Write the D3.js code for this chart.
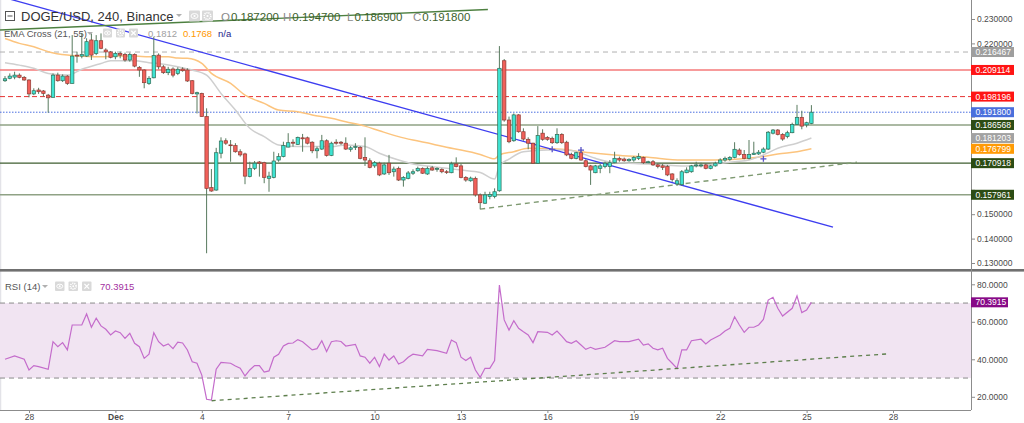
<!DOCTYPE html>
<html><head><meta charset="utf-8">
<script src="https://cdn.jsdelivr.net/npm/d3@7"></script>
<style>body{margin:0;background:#fff;overflow:hidden}svg{display:block;font-family:"Liberation Sans",Arial,sans-serif}</style>
</head><body><svg id="c" width="1024" height="423"></svg>
<script>
// ---------------- DATA (DOGE/USD 4h candles, Nov 27 04:00 -> Dec 25 04:00, 2021) ----------------
const opens=[0.2047,0.2057,0.2062,0.2070,0.2061,0.2050,0.1993,0.2009,0.2005,0.1988,
0.1979,0.2070,0.2047,0.2066,0.2036,0.2152,0.2148,0.2148,0.2214,0.2159,
0.2211,0.2173,0.2165,0.2145,0.2159,0.2155,0.2132,0.2155,0.2102,0.2091,
0.2036,0.2059,0.2152,0.2104,0.2080,0.2095,0.2077,0.2095,0.2091,0.2047,
0.1993,0.1995,0.1900,0.1609,0.1599,0.1750,0.1801,0.1784,0.1781,0.1756,
0.1747,0.1654,0.1688,0.1714,0.1711,0.1647,0.1651,0.1722,0.1736,0.1775,
0.1795,0.1786,0.1813,0.1813,0.1795,0.1760,0.1767,0.1801,0.1741,0.1795,
0.1795,0.1791,0.1766,0.1774,0.1774,0.1733,0.1719,0.1698,0.1709,0.1665,
0.1709,0.1674,0.1688,0.1640,0.1647,0.1668,0.1678,0.1688,0.1665,0.1690,
0.1684,0.1684,0.1674,0.1670,0.1706,0.1698,0.1651,0.1637,0.1647,0.1579,
0.1545,0.1572,0.1572,0.1596,0.2129,0.1886,0.1801,0.1907,0.1838,0.1807,
0.1791,0.1709,0.1832,0.1815,0.1811,0.1793,0.1827,0.1795,0.1745,0.1729,
0.1752,0.1719,0.1698,0.1670,0.1688,0.1695,0.1695,0.1711,0.1729,0.1726,
0.1719,0.1722,0.1729,0.1732,0.1711,0.1715,0.1702,0.1698,0.1695,0.1665,
0.1624,0.1621,0.1670,0.1674,0.1698,0.1698,0.1702,0.1688,0.1698,0.1709,
0.1722,0.1725,0.1733,0.1763,0.1745,0.1729,0.1745,0.1747,0.1754,0.1767,
0.1832,0.1845,0.1827,0.1818,0.1834,0.1868,0.1897,0.1866,0.1872];
const highs=[0.2066,0.2077,0.2084,0.2077,0.2066,0.2053,0.2016,0.2018,0.2009,0.1993,
0.2077,0.2080,0.2073,0.2070,0.2234,0.2166,0.2243,0.2221,0.2241,0.2234,
0.2241,0.2180,0.2169,0.2166,0.2166,0.2162,0.2162,0.2159,0.2107,0.2094,
0.2066,0.2227,0.2159,0.2111,0.2104,0.2102,0.2102,0.2102,0.2098,0.2050,
0.2002,0.1998,0.1934,0.1685,0.1772,0.1815,0.1811,0.1804,0.1791,0.1766,
0.1752,0.1715,0.1718,0.1718,0.1715,0.1674,0.1756,0.1750,0.1797,0.1832,
0.1807,0.1818,0.1829,0.1818,0.1799,0.1777,0.1825,0.1807,0.1797,0.1807,
0.1800,0.1815,0.1779,0.1791,0.1779,0.1815,0.1729,0.1718,0.1715,0.1711,
0.1743,0.1695,0.1695,0.1656,0.1677,0.1684,0.1695,0.1692,0.1695,0.1698,
0.1692,0.1688,0.1681,0.1715,0.1733,0.1706,0.1656,0.1654,0.1654,0.1585,
0.1592,0.1592,0.1606,0.2189,0.2136,0.1900,0.1913,0.1910,0.1852,0.1815,
0.1793,0.1861,0.1848,0.1820,0.1818,0.1852,0.1832,0.1801,0.1752,0.1756,
0.1766,0.1725,0.1702,0.1702,0.1706,0.1715,0.1722,0.1756,0.1736,0.1732,
0.1729,0.1738,0.1750,0.1736,0.1719,0.1722,0.1709,0.1706,0.1702,0.1668,
0.1647,0.1681,0.1692,0.1702,0.1715,0.1711,0.1709,0.1702,0.1715,0.1729,
0.1736,0.1738,0.1795,0.1770,0.1763,0.1804,0.1797,0.1763,0.1774,0.1841,
0.1849,0.1849,0.1832,0.1842,0.1875,0.1948,0.1924,0.1879,0.1947];
const lows=[0.2042,0.2053,0.2053,0.2057,0.2047,0.1979,0.1988,0.1993,0.1982,0.1916,
0.1979,0.2043,0.2042,0.2030,0.2036,0.2121,0.2139,0.2145,0.2132,0.2152,
0.2176,0.2135,0.2139,0.2135,0.2139,0.2125,0.2125,0.2102,0.2063,0.2016,
0.2030,0.2057,0.2094,0.2075,0.2070,0.2061,0.2070,0.2084,0.2042,0.1991,
0.1913,0.1900,0.1340,0.1592,0.1596,0.1729,0.1784,0.1715,0.1752,0.1736,
0.1623,0.1651,0.1681,0.1654,0.1627,0.1592,0.1647,0.1715,0.1733,0.1774,
0.1777,0.1784,0.1756,0.1786,0.1750,0.1729,0.1763,0.1736,0.1738,0.1785,
0.1784,0.1763,0.1756,0.1763,0.1725,0.1698,0.1688,0.1690,0.1656,0.1661,
0.1661,0.1654,0.1636,0.1613,0.1643,0.1661,0.1674,0.1665,0.1661,0.1678,
0.1674,0.1668,0.1665,0.1668,0.1692,0.1647,0.1633,0.1633,0.1572,0.1520,
0.1542,0.1561,0.1565,0.1592,0.1879,0.1791,0.1797,0.1834,0.1801,0.1766,
0.1706,0.1706,0.1801,0.1801,0.1788,0.1788,0.1788,0.1738,0.1725,0.1725,
0.1719,0.1692,0.1620,0.1668,0.1668,0.1688,0.1668,0.1709,0.1715,0.1715,
0.1715,0.1715,0.1722,0.1706,0.1709,0.1698,0.1688,0.1681,0.1656,0.1633,
0.1616,0.1616,0.1668,0.1670,0.1692,0.1692,0.1684,0.1684,0.1695,0.1706,
0.1715,0.1719,0.1729,0.1740,0.1725,0.1725,0.1743,0.1743,0.1750,0.1763,
0.1827,0.1823,0.1801,0.1811,0.1832,0.1866,0.1848,0.1856,0.1869];
const closes=[0.2055,0.2066,0.2070,0.2061,0.2050,0.1993,0.2006,0.2002,0.1995,0.1977,
0.2070,0.2047,0.2066,0.2036,0.2148,0.2148,0.2154,0.2207,0.2152,0.2211,
0.2180,0.2165,0.2143,0.2159,0.2152,0.2132,0.2155,0.2107,0.2091,0.2039,
0.2057,0.2150,0.2104,0.2080,0.2094,0.2070,0.2094,0.2088,0.2046,0.1995,
0.1998,0.1900,0.1606,0.1595,0.1752,0.1800,0.1791,0.1781,0.1756,0.1743,
0.1656,0.1688,0.1709,0.1709,0.1651,0.1656,0.1718,0.1736,0.1781,0.1793,
0.1791,0.1815,0.1809,0.1791,0.1760,0.1768,0.1801,0.1741,0.1791,0.1791,
0.1791,0.1767,0.1772,0.1777,0.1729,0.1722,0.1692,0.1711,0.1661,0.1702,
0.1670,0.1685,0.1640,0.1651,0.1669,0.1674,0.1688,0.1668,0.1688,0.1681,
0.1688,0.1674,0.1672,0.1706,0.1695,0.1651,0.1640,0.1648,0.1579,0.1547,
0.1579,0.1581,0.1592,0.2098,0.1886,0.1797,0.1907,0.1838,0.1808,0.1791,
0.1709,0.1822,0.1807,0.1807,0.1793,0.1827,0.1793,0.1743,0.1729,0.1752,
0.1722,0.1695,0.1681,0.1698,0.1698,0.1709,0.1711,0.1729,0.1722,0.1719,
0.1725,0.1732,0.1736,0.1711,0.1715,0.1702,0.1695,0.1692,0.1661,0.1643,
0.1637,0.1674,0.1681,0.1698,0.1702,0.1702,0.1688,0.1698,0.1709,0.1722,
0.1729,0.1733,0.1766,0.1745,0.1729,0.1745,0.1750,0.1754,0.1767,0.1836,
0.1845,0.1827,0.1808,0.1834,0.1868,0.1897,0.1861,0.1875,0.1918];

// EMA Cross (21, 55) read at candle indices
const ema21Idx=[0,3,6,9,13,16,20,22,27,30,32,36,39,42,45,48,51,54,57,61,64,68,71,75,78,82,85,89,92,95,99,102,103,105,108,113,117,120,123,127,130,134,137,141,144,148,152,155,158,161,165,168];
const ema21Val=[0.2121,0.2111,0.2098,0.2077,0.2070,0.2094,0.2118,0.2129,0.2129,0.2121,0.2118,0.2104,0.2091,0.2070,0.1995,0.1927,0.1852,0.1818,0.1784,0.1777,0.1777,0.1777,0.1784,0.1777,0.1750,0.1722,0.1706,0.1695,0.1688,0.1681,0.1671,0.1644,0.1698,0.1726,0.1756,0.1763,0.1763,0.1750,0.1729,0.1711,0.1709,0.1706,0.1702,0.1698,0.1698,0.1706,0.1715,0.1722,0.1743,0.1770,0.1791,0.1812];
const ema55Idx=[0,3,6,9,13,16,20,23,27,30,34,36,38,41,43,47,50,54,57,61,64,68,71,75,78,82,85,89,92,95,99,102,103,106,109,116,120,123,127,134,141,148,155,158,161,165,168];
const ema55Val=[0.2220,0.2200,0.2186,0.2166,0.2152,0.2148,0.2145,0.2148,0.2148,0.2145,0.2145,0.2140,0.2139,0.2118,0.2077,0.2036,0.1988,0.1954,0.1927,0.1920,0.1907,0.1893,0.1879,0.1861,0.1842,0.1818,0.1804,0.1788,0.1774,0.1763,0.1745,0.1727,0.1743,0.1756,0.1770,0.1766,0.1756,0.1750,0.1743,0.1733,0.1722,0.1722,0.1729,0.1736,0.1747,0.1756,0.1768];
const crossIdx=[114,120,158];
const crossVal=[0.1766,0.1763,0.1727];

// RSI (14) read at candle indices
const rsiIdx=[0,2,4,5,6,7,9,10,11,12,13,14,16,17,18,19,20,21,22,23,24,25,26,27,28,29,30,31,32,33,34,35,36,37,38,39,40,41,42,43,44,45,47,48,49,50,51,52,53,54,55,56,57,58,59,60,61,62,64,65,66,67,68,69,70,71,73,74,75,76,77,78,79,80,81,82,83,84,85,87,88,90,92,93,94,95,96,97,98,99,100,101,102,103,104,105,106,107,108,109,110,111,113,114,115,116,117,118,119,120,121,122,123,125,126,127,128,130,132,133,134,135,136,137,138,139,140,141,142,143,145,146,147,149,150,151,152,153,154,155,156,157,158,159,160,161,162,164,165,166,167,168];
const rsiVal=[40.0,41.8,40.0,34.3,36.6,36.1,34.7,49.4,46.7,48.9,45.0,58.3,58.3,64.2,57.1,61.9,57.8,56.0,53.0,55.1,54.2,51.2,53.9,48.5,46.7,40.5,42.7,54.2,49.4,47.1,48.2,45.7,49.1,48.7,45.0,38.7,37.9,31.6,18.7,18.3,34.7,38.4,37.9,36.4,35.2,31.1,34.3,36.6,36.6,33.2,33.8,41.1,42.7,47.1,48.5,48.7,50.5,49.4,45.0,45.7,49.9,44.1,49.4,49.9,49.5,47.1,48.0,41.8,41.1,37.9,41.1,36.1,42.8,39.6,41.8,37.5,38.7,41.1,42.7,41.8,45.3,44.6,43.2,50.3,48.9,41.1,39.3,41.1,34.3,30.4,35.2,35.2,39.3,79.6,61.0,55.6,60.6,56.5,54.7,53.0,48.9,54.7,54.4,53.0,55.1,52.4,49.4,48.5,49.9,47.6,45.3,46.4,45.3,46.4,48.2,49.9,49.4,49.4,50.7,47.6,48.2,45.9,45.0,45.9,40.5,37.9,35.2,45.0,45.0,49.9,50.7,48.2,50.3,53.0,55.1,56.5,62.7,58.3,54.4,57.1,57.1,58.3,61.3,71.6,73.1,67.2,63.1,67.2,73.8,64.9,66.3,70.3915];

// Horizontal levels and drawn trend lines ([candle index, value])
const levels=[0.216467,0.209114,0.198196,0.191800,0.186568,0.170918,0.157961];
const emaLastVals=[0.181203,0.176799];
const blueTrend=[[0,0.2387],[172.5,0.1447]];
const greenTopTrend=[[-1.04,0.2255],[100.6,0.2339]];
const supportTrend=[[99,0.1521],[177.5,0.1713]];
const rsiTrend=[[43.06,17.9],[183.9,42.9]];
const rsiLast=70.3915;

// Axis ticks
const priceTicks=[0.13,0.14,0.15,0.16,0.17,0.18,0.19,0.20,0.21,0.22,0.23];
const rsiTicks=[20,40,60,80];
const rsiBand=[30,70];
const timeTickDays=[[2021,10,28],[2021,11,1],[2021,11,4],[2021,11,7],[2021,11,10],[2021,11,13],[2021,11,16],[2021,11,19],[2021,11,22],[2021,11,25],[2021,11,28]];
const timeTickLabels=["28","Dec","4","7","10","13","16","19","22","25","28"];
const ohlc=[["O","0.187200"],["H","0.194700"],["L","0.186900"],["C","0.191800"]];

// ---------------- LAYOUT ----------------
const svg=d3.select("#c");
const PR=971, MAIN_B=269, RSI_T=272, RSI_B=410;
const x=d3.scaleUtc().domain([new Date(Date.UTC(2021,10,28)),new Date(Date.UTC(2021,11,28))]).range([29,893]);
const t0=Date.UTC(2021,10,27,4);
const tOf=i=>new Date(t0+i*4*3600e3);
const xi=i=>x(tOf(i));
const y=d3.scaleLinear().domain([0.13,0.23]).range([263,19]);
const r=d3.scaleLinear().domain([20,80]).range([396.8,284.3]);

const defs=svg.append("defs");
defs.append("clipPath").attr("id","cm").append("rect").attr("x",0).attr("y",0).attr("width",PR).attr("height",MAIN_B);
defs.append("clipPath").attr("id","cr").append("rect").attr("x",0).attr("y",RSI_T).attr("width",PR).attr("height",RSI_B-RSI_T);

svg.append("rect").attr("width",1024).attr("height",423).attr("fill","#fff");
svg.append("line").attr("x1",0.5).attr("x2",0.5).attr("y1",0).attr("y2",RSI_B).attr("stroke","#e3e3e8").attr("stroke-width",1.5);

// ---------- main pane ----------
const gm=svg.append("g").attr("clip-path","url(#cm)");
const lvlStyle=[
 {c:"#b0b0b0",w:1,d:"5,4",box:"#9e9e9e"},
 {c:"#f47a7a",w:1.4,d:null,box:"#ff1414"},
 {c:"#e63232",w:1,d:"5,3",box:"#ff1414"},
 {c:"#4a6ee0",w:1,d:"1.5,1.5",box:"#4a6fdc"},
 {c:"#8fa285",w:1.6,d:null,box:"#2c4c14"},
 {c:"#3f5e30",w:1.2,d:null,box:"#2c4c14"},
 {c:"#8fa285",w:1.6,d:null,box:"#2c4c14"}];
levels.forEach((v,k)=>{
  const s=lvlStyle[k];
  gm.append("line").attr("x1",0).attr("x2",PR).attr("y1",y(v)).attr("y2",y(v))
    .attr("stroke",s.c).attr("stroke-width",s.w).attr("stroke-dasharray",s.d);
});

const lineGen=(xs,vs,sc)=>d3.line().x(d=>xi(d[0])).y(d=>sc(d[1])).curve(d3.curveMonotoneX)(xs.map((v,k)=>[v,vs[k]]));
gm.append("path").attr("d",lineGen(ema55Idx,ema55Val,y)).attr("fill","none").attr("stroke","#fcc47e").attr("stroke-width",1.5);
gm.append("path").attr("d",lineGen(ema21Idx,ema21Val,y)).attr("fill","none").attr("stroke","#cfcfcf").attr("stroke-width",1.5);

const segLine=(g,pts,sc,col,w,dash)=>g.append("line")
  .attr("x1",xi(pts[0][0])).attr("y1",sc(pts[0][1])).attr("x2",xi(pts[1][0])).attr("y2",sc(pts[1][1]))
  .attr("stroke",col).attr("stroke-width",w).attr("stroke-dasharray",dash);
segLine(gm,blueTrend,y,"#3d3df0",1.3,null);
segLine(gm,supportTrend,y,"#7f9a72",1.4,"5,4");

// candles
const idx=d3.range(opens.length);
const cg=gm.append("g");
cg.selectAll("line.w").data(idx).join("line").attr("class","w")
  .attr("x1",i=>xi(i)).attr("x2",i=>xi(i)).attr("y1",i=>y(highs[i])).attr("y2",i=>y(lows[i]))
  .attr("stroke","#587a5e").attr("stroke-width",1);
cg.selectAll("rect").data(idx).join("rect")
  .attr("x",i=>xi(i)-1.7).attr("width",3.4)
  .attr("y",i=>y(Math.max(opens[i],closes[i])))
  .attr("height",i=>Math.max(0.8,y(Math.min(opens[i],closes[i]))-y(Math.max(opens[i],closes[i]))))
  .attr("fill",i=>closes[i]>=opens[i]?"#3ee3d2":"#f1605a")
  .attr("stroke",i=>closes[i]>=opens[i]?"#2f6c55":"#8f3a33").attr("stroke-width",0.7);

// cross markers
crossIdx.forEach((c,k)=>{
  const cx=xi(c), cy=y(crossVal[k]);
  gm.append("path").attr("d",`M${cx-3},${cy}H${cx+3}M${cx},${cy-3}V${cy+3}`).attr("stroke","#5b55c8").attr("stroke-width",1.3);
});
segLine(gm,greenTopTrend,y,"#4d8040",1.3,null);

// ---------- RSI pane ----------
const gr=svg.append("g").attr("clip-path","url(#cr)");
gr.append("rect").attr("x",0).attr("width",PR).attr("y",r(rsiBand[1])).attr("height",r(rsiBand[0])-r(rsiBand[1])).attr("fill","#f1e4f2");
rsiBand.forEach(v=>gr.append("line").attr("x1",0).attr("x2",PR).attr("y1",r(v)).attr("y2",r(v)).attr("stroke","#8a8a8a").attr("stroke-width",1).attr("stroke-dasharray","5,4"));
gr.append("path").attr("d",d3.line().x(d=>xi(d[0])).y(d=>r(d[1]))(rsiIdx.map((v,k)=>[v,rsiVal[k]])))
  .attr("fill","none").attr("stroke","#c46ccb").attr("stroke-width",1.2);
segLine(gr,rsiTrend,r,"#5d7e4c",1.3,"4,4");

// ---------- separators & axes ----------
svg.append("rect").attr("x",0).attr("y",MAIN_B).attr("width",1024).attr("height",2.6).attr("fill","#707070");
svg.append("line").attr("x1",PR+0.5).attr("x2",PR+0.5).attr("y1",0).attr("y2",RSI_B).attr("stroke","#8c8c8c");
svg.append("line").attr("x1",0).attr("x2",PR).attr("y1",RSI_B+0.5).attr("y2",RSI_B+0.5).attr("stroke","#8c8c8c");

const styleAxis=g=>{g.select(".domain").remove();g.selectAll("line").attr("stroke","#8c8c8c");
  g.selectAll("text").attr("fill","#4a4a4a").style("font-size","8.5px").style("font-family","Liberation Sans, Arial, sans-serif");};
// price-label positions (tick labels fully hidden behind a box are not drawn, as in the reference)
const boxYs=levels.concat(emaLastVals).map(v=>y(v));
const ya=svg.append("g").attr("transform",`translate(${PR},0)`)
  .call(d3.axisRight(y).tickValues(priceTicks).tickFormat(d3.format(".6f")).tickSize(4).tickPadding(2)).call(styleAxis);
ya.selectAll("text").filter(d=>boxYs.some(b=>Math.abs(b-y(d))<5)).remove();
svg.append("g").attr("transform",`translate(${PR},0)`)
  .call(d3.axisRight(r).tickValues(rsiTicks).tickFormat(d3.format(".4f")).tickSize(4).tickPadding(2)).call(styleAxis);
const tickDates=timeTickDays.map(d=>new Date(Date.UTC(d[0],d[1],d[2])));
const xa=svg.append("g").attr("transform",`translate(0,${RSI_B})`)
  .call(d3.axisBottom(x).tickValues(tickDates).tickFormat((d,k)=>timeTickLabels[k]).tickSize(3).tickPadding(1)).call(styleAxis);
xa.selectAll("text").filter((d,k)=>timeTickLabels[k]==="Dec").style("font-weight","bold");

// price labels on axis
const priceLabel=(yy,txt,col,w)=>{
  svg.append("rect").attr("x",PR).attr("y",yy-5).attr("width",w||43).attr("height",10).attr("fill",col);
  svg.append("text").attr("x",PR+4.5).attr("y",yy+3).attr("fill","#fff").style("font-size","8.5px").text(txt);
};
const f6=d3.format(".6f");
levels.forEach((v,k)=>priceLabel(y(v),f6(v),lvlStyle[k].box));
priceLabel(y(emaLastVals[0]),f6(emaLastVals[0]),"#a2a2a2");
priceLabel(y(emaLastVals[1]),f6(emaLastVals[1]),"#ff9a06");
priceLabel(r(rsiLast),d3.format(".4f")(rsiLast),"#870a87",37);

// ---------- headers ----------
const icon=(x0,y0,s,kind)=>{
  svg.append("rect").attr("x",x0).attr("y",y0).attr("width",s).attr("height",s).attr("fill","#d9d9d9").attr("rx",1);
  const cx=x0+s/2, cy=y0+s/2;
  if(kind==="eye"){svg.append("ellipse").attr("cx",cx).attr("cy",cy).attr("rx",s*0.32).attr("ry",s*0.22).attr("fill","none").attr("stroke","#fff").attr("stroke-width",1);
    svg.append("circle").attr("cx",cx).attr("cy",cy).attr("r",s*0.1).attr("fill","#fff");}
  else if(kind==="gear"){svg.append("circle").attr("cx",cx).attr("cy",cy).attr("r",s*0.3).attr("fill","none").attr("stroke","#fff").attr("stroke-width",1.6).attr("stroke-dasharray","1.2,0.8");
    svg.append("circle").attr("cx",cx).attr("cy",cy).attr("r",s*0.1).attr("fill","#fff");}
  else {svg.append("path").attr("d",`M${x0+s*0.25},${y0+s*0.25}L${x0+s*0.75},${y0+s*0.75}M${x0+s*0.75},${y0+s*0.25}L${x0+s*0.25},${y0+s*0.75}`).attr("stroke","#fff").attr("stroke-width",1.2);}
};
const caret=(x0,y0)=>svg.append("path").attr("d",`M${x0},${y0}l3,3l3,-3z`).attr("fill","#b0b0b0");

// main title
svg.append("rect").attr("x",5.5).attr("y",11.5).attr("width",9).attr("height",9).attr("fill","none").attr("stroke","#555").attr("stroke-width",1);
svg.append("line").attr("x1",7.5).attr("x2",12.5).attr("y1",16).attr("y2",16).attr("stroke","#555");
svg.append("text").attr("x",21).attr("y",20.5).attr("fill","#333").style("font-size","13px").text("DOGE/USD, 240, Binance");
caret(176,14);
icon(189,10.5,11,"eye"); icon(202,10.5,11,"gear");
const ohlcX=[221,283,347,413];
ohlc.forEach((o,k)=>{
  const tx=svg.append("text").attr("x",ohlcX[k]).attr("y",20.5).style("font-size","11.5px");
  tx.append("tspan").attr("fill","#8a8a8a").text(o[0]);
  tx.append("tspan").attr("fill","#3c5f2c").attr("dx",1).text(o[1]);
});
// EMA header
svg.append("text").attr("x",4).attr("y",36.5).attr("fill","#555").style("font-size","9.5px").text("EMA Cross (21, 55)");
caret(87,32);
icon(103,28.5,9,"eye"); icon(116,28.5,9,"gear"); icon(129,28.5,9,"x");
svg.append("text").attr("x",148).attr("y",36.5).attr("fill","#a0a0a0").style("font-size","9.5px").text(d3.format(".4f")(ema21Val[ema21Val.length-1]));
svg.append("text").attr("x",183).attr("y",36.5).attr("fill","#ff9800").style("font-size","9.5px").text(d3.format(".4f")(ema55Val[ema55Val.length-1]));
svg.append("text").attr("x",218).attr("y",36.5).attr("fill","#1c1c8a").style("font-size","9.5px").text("n/a");
// RSI header
svg.append("text").attr("x",5).attr("y",289.5).attr("fill","#555").style("font-size","9.5px").text("RSI (14)");
caret(42,285);
icon(55,281.5,9.5,"eye"); icon(68.5,281.5,9.5,"gear"); icon(82,281.5,9.5,"x");
svg.append("text").attr("x",100).attr("y",289.5).attr("fill","#a3309f").style("font-size","9.5px").text(d3.format(".4f")(rsiLast));
</script></body></html>
